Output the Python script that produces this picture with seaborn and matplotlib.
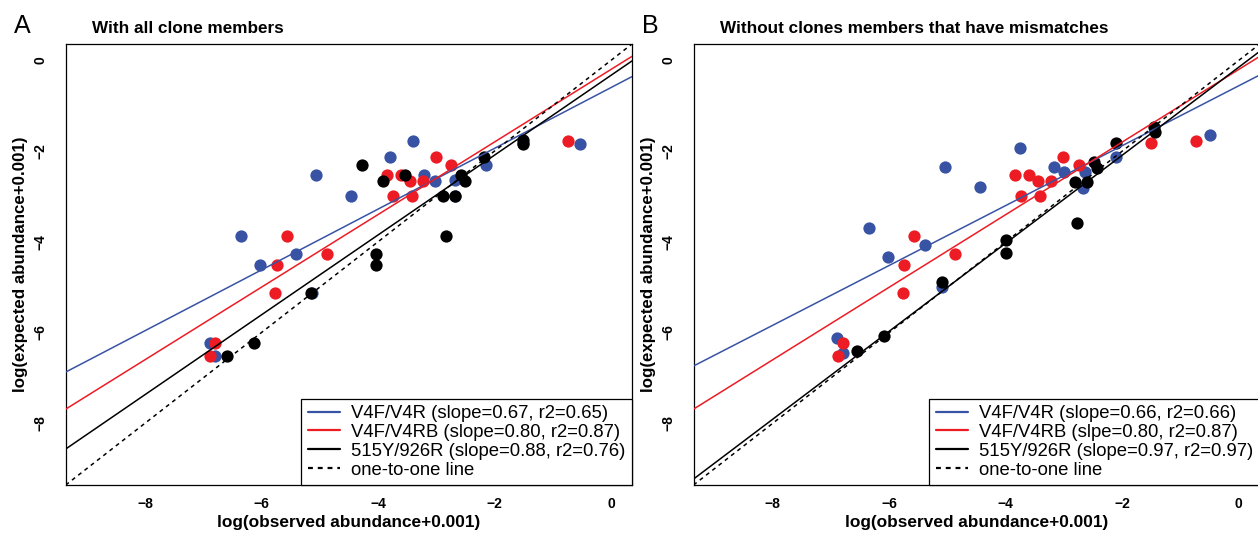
import numpy as np
import pandas as pd
import seaborn as sns
import matplotlib
matplotlib.use("Agg")
import matplotlib.pyplot as plt
from matplotlib.lines import Line2D

# log(observed abundance+0.001) / log(expected abundance+0.001)
# panel A: with all clone members
blue_x_a = [-3.40, -3.80, -5.06, -3.21, -3.02, -2.68, -2.14, -0.53, -4.47, -2.68, -6.35, -5.41, -6.02, -5.14, -6.89, -6.79]
blue_y_a = [-1.78, -2.13, -2.53, -2.53, -2.67, -2.64, -2.31, -1.84, -3.00, -3.00, -3.88, -4.26, -4.52, -5.12, -6.23, -6.51]
red_x = [-3.01, -2.75, -3.84, -3.60, -3.45, -3.22, -3.74, -3.41, -0.73, -1.51, -5.57, -4.87, -5.74, -5.76, -6.80, -6.88]
red_y = [-2.13, -2.31, -2.53, -2.53, -2.67, -2.67, -3.00, -3.00, -1.78, -1.82, -3.88, -4.26, -4.52, -5.12, -6.23, -6.51]
black_x_a = [-4.28, -3.92, -3.53, -2.57, -2.50, -2.18, -1.51, -1.51, -2.88, -2.68, -2.84, -4.04, -4.04, -5.15, -6.13, -6.59]
black_y_a = [-2.30, -2.67, -2.53, -2.53, -2.67, -2.13, -1.75, -1.84, -3.00, -3.00, -3.88, -4.26, -4.52, -5.12, -6.23, -6.51]

# panel B: without clone members that have mismatches
blue_x_b = [-3.75, -5.04, -3.18, -3.00, -2.64, -2.67, -2.11, -0.50, -4.44, -6.34, -5.39, -6.02, -5.10, -6.90, -6.79]
blue_y_b = [-1.93, -2.34, -2.34, -2.46, -2.46, -2.82, -2.12, -1.64, -2.80, -3.69, -4.07, -4.34, -4.99, -6.13, -6.46]
black_x_b = [-2.48, -2.43, -2.10, -2.81, -2.60, -2.78, -1.45, -1.44, -3.99, -3.99, -5.10, -6.09, -6.55]
black_y_b = [-2.23, -2.38, -1.82, -2.69, -2.69, -3.59, -1.47, -1.57, -3.97, -4.25, -4.88, -6.08, -6.41]

# fitted lines (slope, intercept) per primer pair
slopes_a = [0.67, 0.80, 0.88]
intercepts_a = [-0.60, -0.20, -0.33]
slopes_b = [0.66, 0.80, 0.97]
intercepts_b = [-0.56, -0.20, -0.15]

labels_a = ["V4F/V4R (slope=0.67, r2=0.65)", "V4F/V4RB (slope=0.80, r2=0.87)",
            "515Y/926R (slope=0.88, r2=0.76)", "one-to-one line"]
labels_b = ["V4F/V4R (slope=0.66, r2=0.66)", "V4F/V4RB (slpe=0.80, r2=0.87)",
            "515Y/926R (slope=0.97, r2=0.97)", "one-to-one line"]
titles = ["With all clone members", "Without clones members that have mismatches"]
letters = ["A", "B"]
ticks = [-8, -6, -4, -2, 0]

BLUE = "#3953a4"
RED = "#ed1c24"
BLACK = "#000000"
colors = [BLUE, RED, BLACK]

sns.set_style("white")
plt.rcParams['font.family'] = ['Liberation Sans', 'DejaVu Sans']
plt.rcParams['text.color'] = 'black'
plt.rcParams['axes.labelcolor'] = 'black'
plt.rcParams['xtick.color'] = 'black'
plt.rcParams['ytick.color'] = 'black'

W, H = 1258, 535
fig = plt.figure(figsize=(W / 100, H / 100), dpi=100)

ax_w = 566.3 / W
ax_h = 441 / H
ax_b = 50 / H
axA = fig.add_axes([65.7 / W, ax_b, ax_w, ax_h])
axB = fig.add_axes([693.5 / W, ax_b, ax_w, ax_h])

panels = [
    (axA, blue_x_a, blue_y_a, black_x_a, black_y_a, slopes_a, intercepts_a, labels_a),
    (axB, blue_x_b, blue_y_b, black_x_b, black_y_b, slopes_b, intercepts_b, labels_b),
]

for i, (ax, bx, by, kx, ky, sl, ic, labs) in enumerate(panels):
    for xs, ys, c in [(bx, by, BLUE), (red_x, red_y, RED), (kx, ky, BLACK)]:
        d = pd.DataFrame({"obs": xs, "exp": ys})
        sns.scatterplot(data=d, x="obs", y="exp", ax=ax, color=c, s=78,
                        linewidth=0, alpha=1, zorder=2)
    for b, a, c in zip(sl, ic, colors):
        ax.axline((0, a), slope=b, color=c, lw=1.1, zorder=3)
    ax.axline((0, 0), slope=1, color=BLACK, lw=1.1, ls=(0, (2.6, 2.6)), zorder=3)

    ax.set_xlim(-9.36, 0.36)
    ax.set_ylim(-9.36, 0.36)
    tl = ["\u2212%d" % -t if t < 0 else "%d" % t for t in ticks]
    ax.set_xticks(ticks)
    ax.set_xticklabels(tl, fontweight="bold", fontsize=10, color="black")
    ax.set_yticks(ticks)
    ax.set_yticklabels(tl, fontweight="bold", fontsize=10, rotation=90, va="center", color="black")
    ax.tick_params(axis="x", direction="out", length=5.8, width=0.8, pad=3, colors="black")
    ax.tick_params(axis="y", direction="out", length=5.8, width=0.8, pad=7, colors="black")
    ax.set_xlabel("log(observed abundance+0.001)", fontweight="bold", fontsize=12.4,
                  labelpad=3, color="black")
    ax.set_ylabel("log(expected abundance+0.001)", fontweight="bold", fontsize=12.2,
                  labelpad=4, color="black")
    for sp in ax.spines.values():
        sp.set_color("black")
        sp.set_linewidth(0.9)

    handles = [Line2D([], [], color=c, lw=1.6) for c in colors]
    handles.append(Line2D([], [], color=BLACK, lw=1.6, ls=(0, (2.2, 2.2))))
    leg = ax.legend(handles, labs, loc="lower right", bbox_to_anchor=(1, 0), borderaxespad=0,
                    frameon=True, fancybox=False, edgecolor="black", framealpha=1,
                    fontsize=13.3, borderpad=0.35, handlelength=1.75, handletextpad=0.6,
                    labelspacing=0.1, labelcolor="black")
    leg.get_frame().set_linewidth(0.9)

    left_px = 65.7 if i == 0 else 693.5
    fig.text((left_px - 52) / W, 1 - 33 / H, letters[i], fontsize=18, va="baseline",
             ha="left", color="black")
    fig.text((left_px + 26) / W, 1 - 33 / H, titles[i], fontsize=12.3, fontweight="bold",
             va="baseline", ha="left", color="black")

fig.savefig("out.png", dpi=100)
